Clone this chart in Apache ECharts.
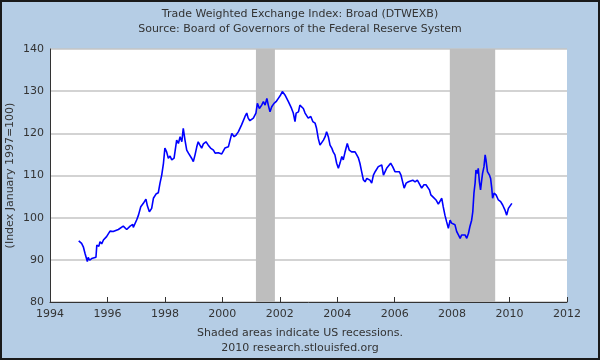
<!DOCTYPE html>
<html>
<head>
<meta charset="utf-8">
<script src="https://cdn.jsdelivr.net/npm/echarts@6/dist/echarts.min.js"></script>
<style>
html,body{margin:0;padding:0;background:#B5CDE5;}
#chart{width:600px;height:360px;}
</style>
</head>
<body>
<div id="chart"></div>
<script>
var titleLines = ['Trade Weighted Exchange Index: Broad (DTWEXB)', 'Source: Board of Governors of the Federal Reserve System'];
var footerLines = ['Shaded areas indicate US recessions.', '2010 research.stlouisfed.org'];
var yAxisName = '(Index January 1997=100)';
var recessions = [[2001.17, 2001.83], [2007.92, 2009.5]];
var dates = [
1995.00,1995.06,1995.10,1995.16,1995.22,1995.30,1995.33,1995.38,1995.45,1995.50,
1995.60,1995.63,1995.70,1995.74,1995.80,1995.86,1995.97,1996.09,1996.20,1996.38,
1996.55,1996.67,1996.79,1996.88,1996.90,1997.02,1997.08,1997.16,1997.25,1997.34,
1997.39,1997.46,1997.54,1997.60,1997.69,1997.77,1997.83,1997.89,1997.95,1998.00,
1998.06,1998.12,1998.18,1998.24,1998.32,1998.41,1998.47,1998.53,1998.59,1998.64,
1998.70,1998.76,1998.82,1998.87,1998.93,1998.99,1999.05,1999.11,1999.16,1999.22,
1999.28,1999.34,1999.43,1999.51,1999.59,1999.69,1999.75,1999.86,1999.98,2000.09,
2000.21,2000.27,2000.33,2000.41,2000.48,2000.56,2000.67,2000.73,2000.79,2000.85,
2000.90,2000.96,2001.08,2001.17,2001.22,2001.29,2001.37,2001.43,2001.49,2001.55,
2001.60,2001.66,2001.72,2001.80,2001.87,2001.95,2002.03,2002.09,2002.12,2002.18,
2002.24,2002.30,2002.36,2002.41,2002.47,2002.53,2002.57,2002.65,2002.70,2002.76,
2002.82,2002.88,2002.94,2002.99,2003.08,2003.15,2003.23,2003.28,2003.34,2003.40,
2003.46,2003.52,2003.58,2003.63,2003.69,2003.75,2003.81,2003.86,2003.92,2003.98,
2004.04,2004.10,2004.16,2004.21,2004.27,2004.35,2004.42,2004.50,2004.56,2004.62,
2004.68,2004.74,2004.79,2004.85,2004.91,2004.97,2005.03,2005.08,2005.14,2005.20,
2005.26,2005.32,2005.37,2005.43,2005.49,2005.55,2005.61,2005.66,2005.72,2005.78,
2005.86,2005.93,2006.01,2006.07,2006.16,2006.22,2006.28,2006.33,2006.40,2006.48,
2006.54,2006.63,2006.71,2006.79,2006.88,2006.94,2007.02,2007.09,2007.15,2007.21,
2007.26,2007.35,2007.44,2007.52,2007.58,2007.64,2007.69,2007.75,2007.81,2007.87,
2007.93,2007.98,2008.04,2008.10,2008.16,2008.22,2008.28,2008.33,2008.39,2008.45,
2008.51,2008.57,2008.62,2008.68,2008.72,2008.76,2008.80,2008.83,2008.88,2008.91,
2008.95,2008.99,2009.03,2009.06,2009.11,2009.15,2009.18,2009.23,2009.26,2009.30,
2009.34,2009.38,2009.41,2009.46,2009.53,2009.61,2009.69,2009.76,2009.84,2009.90,
2009.96,2010.02,2010.08
];
var values = [
94.5,94.2,93.9,93.1,91.5,89.6,90.6,89.9,90.3,90.4,
90.6,93.5,93.2,94.3,93.8,94.7,95.5,96.8,96.7,97.2,
98.0,97.2,98.0,98.4,97.7,99.5,100.6,102.6,103.4,104.4,
102.8,101.4,102.2,104.6,105.6,105.9,108.2,110.1,112.9,116.5,
115.6,114.1,114.6,113.7,114.1,118.4,117.6,119.2,118.0,121.2,
118.4,116.0,115.3,115.6,114.1,113.3,114.9,116.8,118.0,117.2,
116.5,117.5,118.0,117.2,116.5,116.0,115.3,115.4,115.1,116.5,
116.8,117.2,120.0,119.2,119.6,120.4,122.0,122.4,124.0,124.8,
123.6,123.0,123.6,124.8,127.1,125.9,126.7,127.5,126.7,128.3,
126.7,125.1,126.3,127.1,127.5,128.3,129.1,129.9,129.5,129.1,
128.7,127.5,127.1,125.9,124.8,122.8,124.8,125.1,126.7,127.1,
125.9,124.8,124.4,123.6,124.0,122.8,122.4,121.2,118.8,117.2,
117.6,118.4,119.2,120.4,119.2,117.2,116.5,115.6,114.9,112.9,
111.7,113.0,114.5,113.7,115.5,117.6,116.0,115.6,115.3,115.6,
114.9,114.1,112.9,110.9,109.0,108.5,109.3,109.7,108.9,108.2,
110.1,110.9,111.3,112.1,111.7,112.5,110.1,110.5,111.7,112.1,
112.9,112.1,110.9,111.3,110.9,110.1,109.7,107.0,108.2,108.5,
108.2,108.9,108.5,108.9,107.8,107.0,107.8,107.8,107.4,106.6,
105.4,104.8,104.2,103.2,103.0,104.6,102.6,100.6,99.0,97.5,
99.4,98.7,99.0,98.3,96.7,95.9,95.1,95.9,95.5,95.9,
95.1,96.3,97.9,99.4,101.4,105.8,108.2,111.3,110.5,111.7,
108.5,106.6,108.9,110.5,112.1,114.9,113.7,110.9,111.3,110.1,
109.3,107.0,104.6,105.8,105.4,104.2,103.8,103.0,101.8,100.6,
102.2,101.8,103.4
];

var seriesData = dates.map(function(d, i){ return [d, values[i]]; });
var recessionAreas = recessions.map(function(r){ return [{xAxis: r[0]}, {xAxis: r[1]}]; });

var chart = echarts.init(document.getElementById('chart'), null, {renderer: 'canvas'});
var font = 'DejaVu Sans';
chart.setOption({
  backgroundColor: '#B5CDE5',
  animation: false,
  textStyle: {fontFamily: font},
  title: [{
    text: titleLines.join('\n'),
    left: 'center', top: 2,
    textStyle: {fontFamily: font, fontSize: 11, fontWeight: 'normal', color: '#333', lineHeight: 15}
  }, {
    text: footerLines.join('\n'),
    left: 'center', top: 321,
    textStyle: {fontFamily: font, fontSize: 11, fontWeight: 'normal', color: '#333', lineHeight: 15}
  }],
  grid: {left: 50, right: 33, top: 49, bottom: 58, show: true, backgroundColor: '#fff', borderWidth: 0, outerBoundsMode: 'none', containLabel: false},
  xAxis: {
    type: 'value', min: 1994, max: 2012, interval: 2,
    axisLine: {show: true, lineStyle: {color: '#333', width: 1}},
    axisTick: {show: true, inside: true, length: 5, lineStyle: {color: '#333'}},
    axisLabel: {color: '#333', fontSize: 11, fontFamily: font, margin: 7, formatter: function(v){ return String(v); }},
    splitLine: {show: false}
  },
  yAxis: {
    type: 'value', min: 80, max: 140, interval: 10,
    name: yAxisName, nameLocation: 'middle', nameGap: 34, nameRotate: 90, nameMoveOverlap: false,
    nameTextStyle: {color: '#333', fontSize: 11, fontFamily: font},
    axisLine: {show: true, lineStyle: {color: '#333', width: 1}},
    axisTick: {show: false},
    axisLabel: {color: '#333', fontSize: 11, fontFamily: font, margin: 6},
    splitLine: {show: true, lineStyle: {color: '#C4C4C4', width: 1.5}}
  },
  series: [{
    type: 'line',
    data: seriesData,
    showSymbol: false,
    lineStyle: {color: '#0000FF', width: 1.6},
    markArea: {
      silent: true,
      itemStyle: {color: '#BEBEBE', opacity: 1},
      data: recessionAreas
    }
  }],
  graphic: [{
    type: 'rect',
    shape: {x: 1, y: 1, width: 598, height: 358},
    style: {fill: null, stroke: '#1a1a1a', lineWidth: 2},
    silent: true
  }]
});
</script>
</body>
</html>
